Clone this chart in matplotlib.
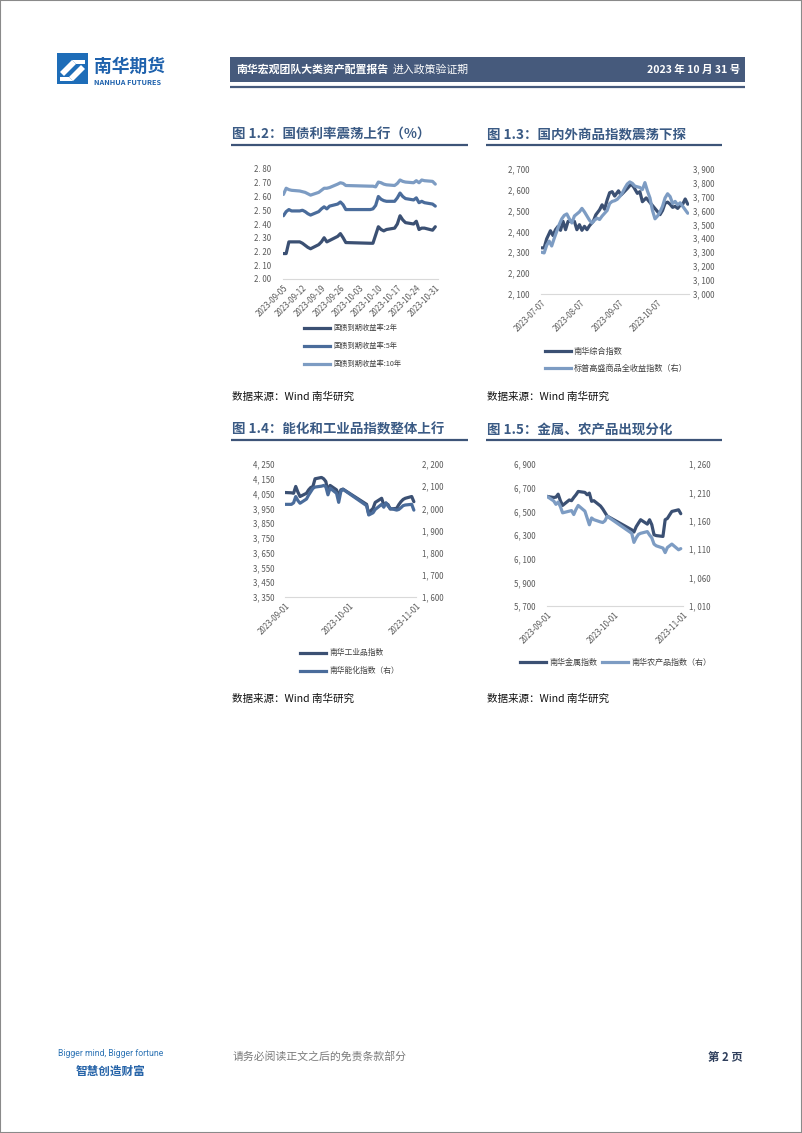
import matplotlib
matplotlib.use('Agg')
import matplotlib.pyplot as plt
from matplotlib.patches import Rectangle, Polygon
from matplotlib.lines import Line2D
import pandas as pd

plt.rcParams['font.family'] = ['Noto Sans CJK SC', 'DejaVu Sans']

# ---------------- data ----------------
# Fig 1.2 government bond yields (%)
bond_dates = ['2023-09-05', '2023-09-06', '2023-09-07', '2023-09-08', '2023-09-11', '2023-09-12',
              '2023-09-13', '2023-09-14', '2023-09-15', '2023-09-18', '2023-09-19', '2023-09-20',
              '2023-09-21', '2023-09-22', '2023-09-25', '2023-09-26', '2023-09-27', '2023-09-28',
              '2023-10-07', '2023-10-08', '2023-10-09', '2023-10-10', '2023-10-11', '2023-10-12',
              '2023-10-13', '2023-10-16', '2023-10-17', '2023-10-18', '2023-10-19', '2023-10-20',
              '2023-10-23', '2023-10-24', '2023-10-25', '2023-10-26', '2023-10-27', '2023-10-30',
              '2023-10-31']
bond_2y = [2.185, 2.185, 2.27, 2.27, 2.27, 2.26, 2.245, 2.23, 2.22, 2.25, 2.27, 2.30, 2.27, 2.28,
           2.31, 2.33, 2.30, 2.265,
           2.26, 2.26, 2.32, 2.38, 2.36, 2.35, 2.36, 2.37, 2.40, 2.46, 2.43, 2.41, 2.40, 2.42,
           2.36, 2.37, 2.37, 2.355, 2.38]
bond_5y = [2.46, 2.49, 2.505, 2.495, 2.495, 2.50, 2.49, 2.475, 2.465, 2.49, 2.51, 2.525, 2.51, 2.53,
           2.545, 2.56, 2.54, 2.505,
           2.505, 2.51, 2.535, 2.60, 2.58, 2.57, 2.565, 2.565, 2.59, 2.625, 2.60, 2.585, 2.575,
           2.59, 2.555, 2.565, 2.555, 2.545, 2.53]
bond_10y = [2.615, 2.66, 2.65, 2.645, 2.64, 2.635, 2.63, 2.62, 2.61, 2.63, 2.645, 2.66, 2.66, 2.665,
            2.69, 2.70, 2.695, 2.68,
            2.675, 2.675, 2.67, 2.705, 2.70, 2.69, 2.685, 2.68, 2.695, 2.72, 2.71, 2.705, 2.70,
            2.715, 2.70, 2.72, 2.715, 2.71, 2.69]
bond_labels = ['国债到期收益率:2年', '国债到期收益率:5年', '国债到期收益率:10年']
bond_yticks = [2.00, 2.10, 2.20, 2.30, 2.40, 2.50, 2.60, 2.70, 2.80]
bond_yticklabels = ['2. 00', '2. 10', '2. 20', '2. 30', '2. 40', '2. 50', '2. 60', '2. 70', '2. 80']
bond_xticks = ['2023-09-05', '2023-09-12', '2023-09-19', '2023-09-26', '2023-10-03',
               '2023-10-10', '2023-10-17', '2023-10-24', '2023-10-31']

# Fig 1.3 domestic vs overseas commodity indices (days since 2023-07-07)
comm_start = '2023-07-07'
nh_days = [0, 2, 4, 7, 9, 11, 13, 15, 17, 19, 21, 24, 26, 28, 30, 32, 34, 36, 38, 41,
           43, 46, 48, 50, 52, 54, 56, 58, 61, 63, 65, 68, 71, 73, 76, 78, 80, 83, 94, 96,
           98, 100, 102, 104, 106, 108, 110, 112, 114, 116]
nh_composite = [2321, 2321, 2364, 2403, 2380, 2408, 2424, 2405, 2448, 2408,
                2448, 2448, 2448, 2408, 2432, 2405, 2424, 2408, 2427, 2448,
                2479, 2503, 2527, 2506, 2550, 2585, 2590, 2569, 2594, 2574,
                2586, 2605, 2626, 2613, 2582, 2590, 2542, 2560, 2480, 2500,
                2535, 2540, 2530, 2515, 2520, 2510, 2525, 2530, 2555, 2530]
sp_days = [0, 2, 4, 6, 8, 10, 12, 14, 16, 18, 20, 22, 24, 26, 28, 30, 32, 34, 36, 38,
           40, 42, 44, 46, 48, 50, 52, 54, 56, 58, 60, 62, 64, 66, 68, 70, 72, 74, 76, 78,
           80, 82, 84, 86, 88, 90, 92, 94, 96, 98, 100, 102, 104, 106, 108, 110, 112, 114, 116]
sp_gsci_tr = [3300, 3295, 3350, 3380, 3345, 3400, 3450, 3500, 3540, 3565,
              3575, 3540, 3510, 3560, 3575, 3590, 3615, 3590, 3560, 3530,
              3510, 3530, 3545, 3535, 3560, 3580, 3600, 3650, 3665, 3670,
              3680, 3700, 3725, 3760, 3790, 3805, 3795, 3775, 3770, 3765,
              3750, 3800, 3740, 3690, 3600, 3540, 3560, 3590, 3630, 3690,
              3720, 3700, 3650, 3665, 3640, 3655, 3630, 3605, 3580]
comm_labels = ['南华综合指数', '标普高盛商品全收益指数（右）']
comm_left_ticks = [2100, 2200, 2300, 2400, 2500, 2600, 2700]
comm_left_labels = ['2, 100', '2, 200', '2, 300', '2, 400', '2, 500', '2, 600', '2, 700']
comm_right_ticks = [3000, 3100, 3200, 3300, 3400, 3500, 3600, 3700, 3800, 3900]
comm_right_labels = ['3, 000', '3, 100', '3, 200', '3, 300', '3, 400', '3, 500', '3, 600',
                     '3, 700', '3, 800', '3, 900']
comm_xticks = ['2023-07-07', '2023-08-07', '2023-09-07', '2023-10-07']

# Fig 1.4 / 1.5 sector indices
sector_dates = ['2023-09-01', '2023-09-04', '2023-09-05', '2023-09-06', '2023-09-07', '2023-09-08',
                '2023-09-11', '2023-09-12', '2023-09-13', '2023-09-14', '2023-09-15', '2023-09-18',
                '2023-09-19', '2023-09-20', '2023-09-21', '2023-09-22', '2023-09-25', '2023-09-26',
                '2023-09-27', '2023-09-28', '2023-10-09', '2023-10-10', '2023-10-11', '2023-10-12',
                '2023-10-13', '2023-10-16', '2023-10-17', '2023-10-18', '2023-10-19', '2023-10-20',
                '2023-10-23', '2023-10-24', '2023-10-25', '2023-10-26', '2023-10-27', '2023-10-30',
                '2023-10-31']
nh_industrial = [4057, 4055, 4052, 4098, 4060, 4030, 4052, 4075, 4091, 4098, 4150, 4159, 4150, 4132,
                 4064, 4105, 4075, 4030, 4075, 4080,
                 3977, 3910, 3935, 3950, 3990, 4018, 3973, 3984, 3975, 3945, 3950, 3975, 3995, 4010,
                 4018, 4030, 3995]
nh_energy_chem = [2018, 2018, 2025, 2053, 2035, 2023, 2042, 2060, 2075, 2090, 2096, 2100, 2103, 2098,
                  2061, 2091, 2068, 2027, 2076, 2086,
                  2012, 1970, 1975, 1980, 1995, 2018, 2005, 2025, 2010, 2000, 1992, 1995, 2003, 2012,
                  2015, 2018, 1992]
ind_labels = ['南华工业品指数', '南华能化指数（右）']
ind_left_ticks = [3350, 3450, 3550, 3650, 3750, 3850, 3950, 4050, 4150, 4250]
ind_left_labels = ['3, 350', '3, 450', '3, 550', '3, 650', '3, 750', '3, 850', '3, 950', '4, 050',
                   '4, 150', '4, 250']
ind_right_ticks = [1600, 1700, 1800, 1900, 2000, 2100, 2200]
ind_right_labels = ['1, 600', '1, 700', '1, 800', '1, 900', '2, 000', '2, 100', '2, 200']

nh_metals = [6626, 6617, 6620, 6645, 6590, 6550, 6596, 6590, 6617, 6640, 6668, 6660, 6640, 6654,
             6585, 6590, 6545, 6520, 6490, 6460,
             6344, 6325, 6370, 6400, 6429, 6392, 6429, 6387, 6302, 6295, 6288, 6429, 6440, 6470,
             6499, 6513, 6480]
nh_agri = [1203, 1195, 1189, 1193, 1185, 1174, 1177, 1178, 1171, 1180, 1187, 1177, 1165, 1153,
           1165, 1162, 1158, 1157, 1160, 1168,
           1138, 1122, 1130, 1136, 1138, 1141, 1135, 1130, 1119, 1116, 1112, 1104, 1113, 1116,
           1119, 1109, 1111]
met_labels = ['南华金属指数', '南华农产品指数（右）']
met_left_ticks = [5700, 5900, 6100, 6300, 6500, 6700, 6900]
met_left_labels = ['5, 700', '5, 900', '6, 100', '6, 300', '6, 500', '6, 700', '6, 900']
met_right_ticks = [1010, 1060, 1110, 1160, 1210, 1260]
met_right_labels = ['1, 010', '1, 060', '1, 110', '1, 160', '1, 210', '1, 260']
sector_xticks = ['2023-09-01', '2023-10-01', '2023-11-01']

# ---------------- styling ----------------
W, H = 802, 1133
fig = plt.figure(figsize=(W / 100, H / 100), dpi=100)
fig.patch.set_facecolor('white')

NAVY = '#3B5073'
MID = '#4A6C9B'
LIGHT = '#7D9CC3'
TITLE_C = '#3A5A84'
TICK_C = '#595959'
BAR_C = '#465A7C'
LW = 2.3
TICK_FS = 5.7


def X(x):
    return x / W


def Y(y):
    return 1 - y / H


def ax_px(l, t, r, b):
    return fig.add_axes([X(l), Y(b), (r - l) / W, (b - t) / H])


def text(x, y, s, **kw):
    kw.setdefault('va', 'center')
    return fig.text(X(x), Y(y), s, **kw)


def hline(x0, x1, y, color, lw):
    fig.add_artist(Line2D([X(x0), X(x1)], [Y(y), Y(y)], color=color, lw=lw,
                          transform=fig.transFigure, solid_capstyle='butt'))


def style_axis(ax, yticks, ylabels, ylim, pad):
    ax.set_ylim(*ylim)
    ax.set_yticks(yticks)
    ax.set_yticklabels(ylabels)
    for s in ax.spines.values():
        s.set_visible(False)
    ax.tick_params(axis='y', length=0, pad=pad, labelsize=TICK_FS, labelcolor=TICK_C)
    ax.set_facecolor('none')


def style_x(ax, xticks, xlim):
    ax.set_xlim(pd.Timestamp(xlim[0]), pd.Timestamp(xlim[1]))
    ax.set_xticks([pd.Timestamp(d) for d in xticks])
    ax.set_xticklabels(xticks, rotation=45, ha='right', va='top', rotation_mode='anchor')
    ax.tick_params(axis='x', length=0, pad=3, labelsize=TICK_FS, labelcolor=TICK_C)
    ax.spines['bottom'].set_visible(True)
    ax.spines['bottom'].set_color('#D9D9D9')
    ax.spines['bottom'].set_linewidth(0.8)


def legend_row(x, y, color, label, fs):
    fig.add_artist(Line2D([X(x), X(x + 26)], [Y(y), Y(y)], color=color, lw=LW,
                          transform=fig.transFigure))
    text(x + 29, y, label, fontsize=fs, color='#404040')


def line_kw(color):
    return dict(color=color, lw=LW, solid_joinstyle='round', solid_capstyle='round')


# page border
fig.add_artist(Rectangle((0, 0), 1, 1, transform=fig.transFigure, fill=False,
                         edgecolor='#8a8a8a', lw=1.5))

# ---------------- header ----------------
fig.add_artist(Rectangle((X(57), Y(84)), 31 / W, 31 / H, transform=fig.transFigure,
                         facecolor='#1E6DB8', edgecolor='none'))
fig.add_artist(Polygon([(X(60), Y(72)), (X(72), Y(60)), (X(76), Y(64)), (X(64), Y(76))],
                       closed=True, transform=fig.transFigure, facecolor='white', edgecolor='none'))
fig.add_artist(Polygon([(X(69), Y(77)), (X(81), Y(65)), (X(85), Y(69)), (X(73), Y(81))],
                       closed=True, transform=fig.transFigure, facecolor='white', edgecolor='none'))
fig.add_artist(Polygon([(X(72), Y(60)), (X(85), Y(60)), (X(85), Y(64)), (X(76), Y(64))],
                       closed=True, transform=fig.transFigure, facecolor='white', edgecolor='none'))
fig.add_artist(Polygon([(X(60), Y(77)), (X(69), Y(77)), (X(73), Y(81)), (X(60), Y(81))],
                       closed=True, transform=fig.transFigure, facecolor='white', edgecolor='none'))
text(94, 67, '南华期货', fontsize=12.8, weight='bold', color='#1F62AD')
text(94, 82.5, 'NANHUA FUTURES', fontsize=5.3, weight='bold', color='#1F62AD')

fig.add_artist(Rectangle((X(230), Y(82)), (745 - 230) / W, 25 / H, transform=fig.transFigure,
                         facecolor=BAR_C, edgecolor='none'))
hline(230, 745, 86.5, BAR_C, 1.6)
text(236, 69.5, '南华宏观团队大类资产配置报告', fontsize=7.8, weight='bold', color='white')
text(393, 69.5, '进入政策验证期', fontsize=7.8, color='white')
text(740, 69.5, '2023 年 10 月 31 号', fontsize=7.6, weight='bold', color='white', ha='right')

# ---------------- titles ----------------
TITLE_FS = 9.7
for (x, y, t, x1) in [(232, 135, '图 1.2：国债利率震荡上行（%）', 468),
                      (487, 135, '图 1.3：国内外商品指数震荡下探', 722),
                      (232, 430, '图 1.4：能化和工业品指数整体上行', 468),
                      (487, 430, '图 1.5：金属、农产品出现分化', 722)]:
    text(x, y, t, fontsize=TITLE_FS, weight='bold', color=TITLE_C)
    hline(x - 1, x1, y + 10, '#3D5478', 1.6)

for (x, y) in [(232, 397), (487, 397), (232, 699), (487, 699)]:
    text(x, y, '数据来源：Wind 南华研究', fontsize=7.6, color='#111111')

# ---------------- Fig 1.2 ----------------
ax = ax_px(283, 169, 438, 279)
bd = pd.to_datetime(bond_dates)
for vals, c in zip([bond_2y, bond_5y, bond_10y], [NAVY, MID, LIGHT]):
    ax.plot(bd, vals, **line_kw(c))
style_axis(ax, bond_yticks, bond_yticklabels, (2.0, 2.8), 8.5)
style_x(ax, bond_xticks, ('2023-09-04 20:00', '2023-11-01 00:00'))
for i, (lab, c) in enumerate(zip(bond_labels, [NAVY, MID, LIGHT])):
    legend_row(304, 328 + 18 * i, c, lab, 5.2)

# ---------------- Fig 1.3 ----------------
ax = ax_px(541, 168.7, 689, 294)
start = pd.Timestamp(comm_start)
nd = start + pd.to_timedelta(nh_days, unit='D')
sd = start + pd.to_timedelta(sp_days, unit='D')
ax.plot(nd, nh_composite, **line_kw(NAVY))
style_axis(ax, comm_left_ticks, comm_left_labels, (2100, 2700), 8.5)
style_x(ax, comm_xticks, ('2023-07-06 12:00', '2023-11-01'))
ax2 = ax.twinx()
ax2.plot(sd, sp_gsci_tr, **line_kw(LIGHT))
style_axis(ax2, comm_right_ticks, comm_right_labels, (3000, 3900), 3)
ax2.set_xlim(ax.get_xlim())
legend_row(545, 351, NAVY, comm_labels[0], 5.9)
legend_row(545, 368, LIGHT, comm_labels[1], 5.9)

# ---------------- Fig 1.4 ----------------
sdts = pd.to_datetime(sector_dates)
ax = ax_px(285, 464, 416, 597)
ax.plot(sdts, nh_industrial, **line_kw(NAVY))
style_axis(ax, ind_left_ticks, ind_left_labels, (3350, 4250), 7.5)
style_x(ax, sector_xticks, ('2023-09-01', '2023-11-01'))
ax2 = ax.twinx()
ax2.plot(sdts, nh_energy_chem, **line_kw(MID))
style_axis(ax2, ind_right_ticks, ind_right_labels, (1600, 2200), 4)
ax2.set_xlim(ax.get_xlim())
legend_row(300, 653, NAVY, ind_labels[0], 5.6)
legend_row(300, 671, MID, ind_labels[1], 5.6)

# ---------------- Fig 1.5 ----------------
ax = ax_px(547, 464, 683, 606)
ax.plot(sdts, nh_metals, **line_kw(NAVY))
style_axis(ax, met_left_ticks, met_left_labels, (5700, 6900), 8.5)
style_x(ax, sector_xticks, ('2023-09-01', '2023-11-01'))
ax2 = ax.twinx()
ax2.plot(sdts, nh_agri, **line_kw(LIGHT))
style_axis(ax2, met_right_ticks, met_right_labels, (1010, 1260), 4)
ax2.set_xlim(ax.get_xlim())
legend_row(520, 662, NAVY, met_labels[0], 5.8)
legend_row(602, 662, LIGHT, met_labels[1], 5.8)

# ---------------- footer ----------------
text(111, 1054, 'Bigger mind, Bigger fortune', fontsize=6.2, color='#2E74B5', ha='center',
     family=['Roboto', 'DejaVu Sans'])
text(111, 1071, '智慧创造财富', fontsize=8.4, weight='bold', color='#2563A8', ha='center')
text(233, 1056, '请务必阅读正文之后的免责条款部分', fontsize=7.8, color='#7a7a7a')
text(743, 1058, '第 2 页', fontsize=8.2, weight='bold', color='#2F3F5C', ha='right')

fig.savefig('out.png', dpi=100)
